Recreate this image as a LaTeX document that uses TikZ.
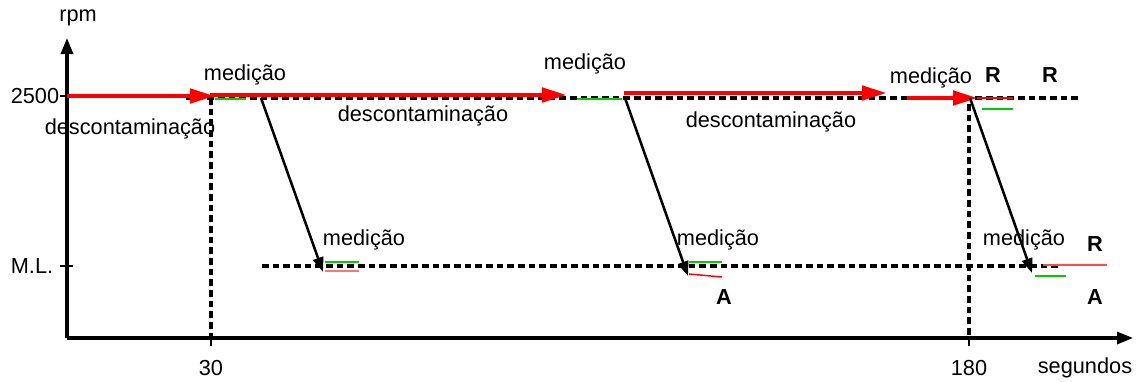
\documentclass[tikz,border=0pt]{standalone}
\usepackage{fontspec}
\setmainfont{Liberation Sans}
\usepackage{tikz}
\usetikzlibrary{arrows.meta, positioning}

\tikzset{
  axisline/.style={line width=2.4pt, -{Triangle[length=12pt,width=9pt]}},
  redarrow/.style={red, line width=2.3pt, -{Triangle[length=18pt,width=11pt]}},
  levelline/.style={line width=2.6pt, dash pattern=on 5pt off 3pt},
  dropline/.style={line width=1.9pt, -{Triangle[length=11pt,width=8pt]}},
  lbl/.style={inner sep=0.75pt, font=\fontsize{16.3}{19}\selectfont},
  boldlbl/.style={lbl, font=\fontsize{16.3}{19}\selectfont\bfseries}
}

\begin{document}
\begin{tikzpicture}[x=0.75pt,y=0.75pt,yscale=-1,xscale=1]
\useasboundingbox (0,0) rectangle (1136,382);

% axes
\coordinate (O) at (67,338);
\coordinate (ytop) at (67,38);
\coordinate (xend) at (1133,338);
\draw [axisline] (O) -- (ytop);
\draw [axisline] (O) -- (xend);

% ticks
\coordinate (t2500a) at (60,96);  \coordinate (t2500b) at (67,96);
\coordinate (tMLa) at (60,266);   \coordinate (tMLb) at (73,266);
\coordinate (t30a) at (211,338);  \coordinate (t30b) at (211,346);
\coordinate (t180a) at (969,338); \coordinate (t180b) at (969,346);
\draw [line width=1pt] (t2500a) -- (t2500b);
\draw [line width=1pt] (tMLa) -- (tMLb);
\draw [line width=1pt] (t30a) -- (t30b);
\draw [line width=1pt] (t180a) -- (t180b);

% axis labels
\node [lbl] (rpm) at (78,18) {rpm};
\node [lbl] (v2500) at (35,96) {2500};
\node [lbl] (vML) at (32,266) {M.L.};
\node [lbl] (s30) at (211,368) {30};
\node [lbl] (s180) at (969,368) {180};
\node [lbl] (seg) at (1085,368) {segundos};

% level lines
\coordinate (hiA) at (186,98);  \coordinate (hiB) at (1078,98);
\coordinate (loA) at (262,266); \coordinate (loB) at (1060,266);
\draw [levelline] (hiA) -- (hiB);
\draw [levelline] (loA) -- (loB);
\coordinate (v30top) at (211,98);   \coordinate (v30bot) at (211,338);
\coordinate (v180top) at (969,104); \coordinate (v180bot) at (969,338);
\draw [levelline] (v30top) -- (v30bot);
\draw [levelline] (v180top) -- (v180bot);

% red arrows (descontaminacao)
\coordinate (r1a) at (67,96);   \coordinate (r1b) at (214,96);
\coordinate (r2a) at (210,95);  \coordinate (r2b) at (566,95);
\coordinate (r3a) at (624,93);  \coordinate (r3b) at (886,93);
\coordinate (r4a) at (907,98);  \coordinate (r4b) at (977,98);
\coordinate (r5a) at (977,98);  \coordinate (r5b) at (1013,98);
\draw [redarrow] (r1a) -- (r1b);
\draw [redarrow] (r2a) -- (r2b);
\draw [redarrow] (r3a) -- (r3b);
\draw [redarrow] (r4a) -- (r4b);
\draw [red, line width=1.4pt] (r5a) -- (r5b);

% drop arrows
\coordinate (d1a) at (261,98);  \coordinate (d1b) at (323,272);
\coordinate (d2a) at (625,98);  \coordinate (d2b) at (688,276);
\coordinate (d3a) at (970,98);  \coordinate (d3b) at (1032,273);
\draw [dropline] (d1a) -- (d1b);
\draw [dropline] (d2a) -- (d2b);
\draw [dropline] (d3a) -- (d3b);

% short marks
\coordinate (g1a) at (215,99);  \coordinate (g1b) at (246,99);
\coordinate (g2a) at (577,99);  \coordinate (g2b) at (622,99);
\coordinate (g3a) at (982,109); \coordinate (g3b) at (1013,109);
\coordinate (g4a) at (325,262); \coordinate (g4b) at (359,262);
\coordinate (g5a) at (689,262); \coordinate (g5b) at (722,262);
\coordinate (g6a) at (1035,276); \coordinate (g6b) at (1066,276);
\foreach \a/\b in {g1a/g1b, g2a/g2b, g3a/g3b, g4a/g4b, g5a/g5b, g6a/g6b}
  \draw [green!80!black, line width=1.1pt] (\a) -- (\b);
\coordinate (p1a) at (325,271); \coordinate (p1b) at (359,271);
\coordinate (p2a) at (689,274); \coordinate (p2b) at (722,277);
\coordinate (p3a) at (1043,265); \coordinate (p3b) at (1107,265);
\draw [red!55, line width=1.2pt] (p1a) -- (p1b);
\draw [red, line width=1.1pt] (p2a) -- (p2b);
\draw [red!70, line width=1.1pt] (p3a) -- (p3b);

% text nodes
\node [lbl] (med1) at (245,75) {medição};
\node [lbl] (med2) at (585,64) {medição};
\node [lbl] (med3) at (931,78) {medição};
\node [lbl] (med4) at (364,240) {medição};
\node [lbl] (med5) at (718,240) {medição};
\node [lbl] (med6) at (1024,240) {medição};
\node [lbl] (desc1) at (130,129) {descontaminação};
\node [lbl] (desc2) at (423,116) {descontaminação};
\node [lbl] (desc3) at (771,122) {descontaminação};
\node [boldlbl] (R1) at (993,75) {R};
\node [boldlbl] (R2) at (1050,75) {R};
\node [boldlbl] (R3) at (1095,244) {R};
\node [boldlbl] (A1) at (724,297) {A};
\node [boldlbl] (A2) at (1095,297) {A};

\end{tikzpicture}
\end{document}
